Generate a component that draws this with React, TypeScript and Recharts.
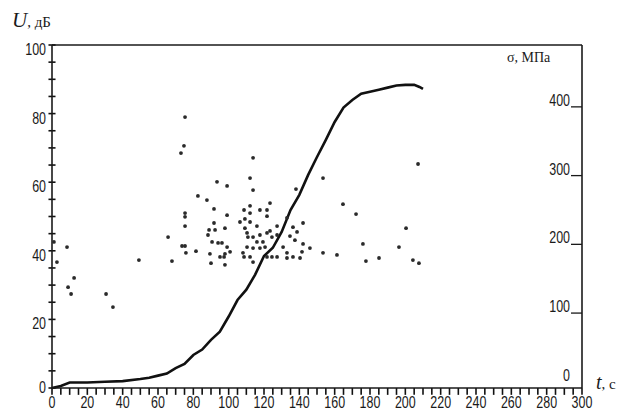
import * as React from 'react';
import {
  ComposedChart,
  Line,
  Scatter,
  XAxis,
  YAxis,
  ReferenceLine,
} from 'recharts';

// stress curve, t (s) -> sigma (MPa)
const curveT = [0, 5, 10, 20, 30, 40, 50, 55, 60, 65, 70, 75, 80, 85, 90, 95, 100, 105, 110, 115, 120, 125, 130, 135, 140, 145, 150, 155, 160, 165, 170, 175, 180, 185, 190, 195, 200, 205, 208, 210];
const curveSigma = [-9, -6, -1, -1, 0, 1, 4, 6, 9, 12, 20, 26, 39, 47, 61, 73, 95, 119, 134, 156, 183, 195, 218, 250, 272, 301, 327, 352, 378, 399, 410, 419, 422, 425, 428, 431, 432, 432, 429, 426];

// acoustic emission events, t (s) and amplitude U (dB)
const eventT = [75.3, 74.7, 73.0, 113.8, 93.4, 99.1, 112.1, 113.8, 82.6, 87.7, 91.7, 75.3, 75.3, 75.3, 99.1, 65.7, 73.6, 75.3, 75.8, 81.5, 49.2, 67.9, 90.0, 97.9, 89.4, 91.7, 88.9, 92.3, 97.9, 88.3, 90.6, 94.0, 96.2, 99.1, 97.9, 100.8, 95.1, 97.4, 108.7, 112.1, 117.7, 121.7, 123.4, 112.1, 106.4, 109.2, 112.1, 116.0, 121.7, 109.2, 110.4, 110.9, 113.8, 117.7, 121.7, 123.4, 127.4, 133.0, 136.4, 142.1, 138.7, 134.7, 137.5, 142.1, 146.0, 141.5, 130.8, 133.0, 127.4, 108.1, 108.7, 112.1, 113.8, 117.7, 120.6, 121.7, 124.5, 133.0, 136.4, 140.4, 110.4, 113.8, 116.0, 119.4, 124.5, 127.4, 207.2, 153.4, 164.7, 172.1, 200.4, 176.0, 196.4, 177.7, 185.1, 204.3, 207.7, 138.1, 153.4, 161.3, 1.1, 8.5, 2.8, 12.5, 9.1, 10.8, 30.6, 34.5];
const eventU = [79.0, 70.6, 68.5, 67.1, 60.1, 58.9, 61.2, 57.7, 56.0, 54.8, 52.2, 51.0, 49.9, 47.2, 50.4, 44.0, 41.4, 41.4, 39.4, 39.9, 37.3, 37.0, 36.4, 35.9, 39.1, 48.1, 46.1, 46.1, 46.6, 44.6, 42.6, 42.3, 42.3, 41.1, 39.1, 39.7, 38.2, 38.2, 51.9, 53.1, 51.9, 51.9, 53.9, 51.0, 48.4, 49.3, 48.4, 47.2, 50.1, 46.6, 45.2, 44.0, 44.0, 44.6, 45.2, 45.8, 47.2, 49.6, 46.9, 48.1, 45.5, 44.3, 43.1, 42.0, 40.8, 39.7, 41.1, 39.4, 38.2, 39.4, 38.2, 38.2, 36.7, 40.8, 41.1, 38.2, 38.2, 37.9, 38.2, 37.9, 41.1, 40.8, 42.6, 42.6, 44.0, 44.6, 65.3, 61.2, 53.6, 50.7, 46.6, 42.0, 41.1, 37.0, 37.9, 37.3, 36.4, 58.0, 39.4, 38.8, 42.6, 41.1, 36.7, 32.1, 29.4, 27.4, 27.4, 23.6];

// tick labels
const timeLabels = [0, 20, 40, 60, 80, 100, 120, 140, 160, 180, 200, 220, 240, 260, 280, 300];
const ampLabels = [0, 20, 40, 60, 80, 100];
const stressLabels = [0, 100, 200, 300, 400];

// minor tick positions (every 5 units)
const minorX = Array.from({ length: 61 }, (_, i) => i * 5);
const minorY = Array.from({ length: 21 }, (_, i) => i * 5);

const curveData = curveT.map((t, i) => ({ t, s: curveSigma[i] }));
const eventData = eventT.map((t, i) => ({ t, u: eventU[i] }));

const INK = '#1a1a1a';
const NUM_FONT = "'Liberation Sans', Arial, sans-serif";
const SERIF = "'Liberation Serif', 'DejaVu Serif', serif";

// narrow digits like the original (Arial Narrow look)
function NarrowText({ x, y, anchor, children }: any) {
  return (
    <text
      transform={`translate(${x},${y}) scale(0.78,1)`}
      textAnchor={anchor}
      fontSize={16}
      fontFamily={NUM_FONT}
      fill={INK}
    >
      {children}
    </text>
  );
}

function TimeTick(props: any) {
  const { x, y, payload } = props;
  return <NarrowText x={x} y={y + 20} anchor="middle">{payload.value}</NarrowText>;
}

function AmpTick(props: any) {
  const { x, y, payload } = props;
  const v = payload.value;
  return <NarrowText x={x - 6} y={y + (v === 0 ? 5 : 10)} anchor="end">{v}</NarrowText>;
}

function StressTick(props: any) {
  const { x, y, payload } = props;
  const v = payload.value;
  return (
    <g>
      {v !== 0 && <path d={`M${x - 11},${y}L${x},${y}`} stroke={INK} strokeWidth={1.3} fill="none" />}
      <NarrowText x={x - 12} y={y - 1} anchor="end">{v}</NarrowText>
    </g>
  );
}

const Dot = (props: any) => <circle cx={props.cx} cy={props.cy} r={1.9} fill="#2a2a2a" />;

export default function App() {
  return (
    <div style={{ position: 'relative', width: 630, height: 412, background: '#fff', overflow: 'hidden' }}>
      <style>{'body{margin:0}'}</style>
      <ComposedChart
        width={630}
        height={412}
        margin={{ top: 45, right: 8, left: 12, bottom: 4 }}
      >
        <XAxis
          dataKey="t"
          type="number"
          domain={[0, 300]}
          ticks={timeLabels}
          interval={0}
          tickSize={0}
          tickMargin={0}
          tickLine={false}
          tick={(p: any) => <TimeTick {...p} />}
          height={20}
          axisLine={{ stroke: INK, strokeWidth: 1.6 }}
        />
        <YAxis
          yAxisId="left"
          type="number"
          domain={[0, 100]}
          ticks={ampLabels}
          interval={0}
          tickSize={0}
          tickMargin={0}
          tickLine={false}
          tick={(p: any) => <AmpTick {...p} />}
          width={40}
          axisLine={{ stroke: INK, strokeWidth: 1.6 }}
        />
        <YAxis
          yAxisId="right"
          orientation="right"
          type="number"
          domain={[-9, 490]}
          ticks={stressLabels}
          interval={0}
          tickSize={0}
          tickMargin={0}
          tickLine={false}
          tick={(p: any) => <StressTick {...p} />}
          width={40}
          axisLine={{ stroke: INK, strokeWidth: 1.6 }}
        />
        <ReferenceLine yAxisId="left" y={100} stroke={INK} strokeWidth={1.6} />
        {/* minor ticks below the time axis */}
        {minorX.map((t) => (
          <ReferenceLine
            key={`tx${t}`}
            yAxisId="left"
            ifOverflow="visible"
            segment={[{ x: t, y: 0 }, { x: t, y: -2 }]}
            stroke="#111"
            strokeWidth={1.6}
          />
        ))}
        {/* minor ticks across the amplitude axis */}
        {minorY.map((u) => (
          <ReferenceLine
            key={`ty${u}`}
            yAxisId="left"
            ifOverflow="visible"
            segment={[{ x: -2, y: u }, { x: 2, y: u }]}
            stroke="#111"
            strokeWidth={1.6}
          />
        ))}
        <Scatter
          yAxisId="left"
          data={eventData}
          dataKey="u"
          shape={<Dot />}
          isAnimationActive={false}
        />
        <Line
          yAxisId="right"
          data={curveData}
          dataKey="s"
          type="linear"
          stroke="#111"
          strokeWidth={2.6}
          dot={false}
          isAnimationActive={false}
        />
      </ComposedChart>
      <div style={{ position: 'absolute', left: 12, top: 8, fontFamily: SERIF, color: INK, whiteSpace: 'nowrap' }}>
        <span style={{ fontStyle: 'italic', fontSize: 21 }}>U</span>
        <span style={{ fontSize: 15 }}>, дБ</span>
      </div>
      <div style={{ position: 'absolute', left: 507, top: 50, fontFamily: SERIF, fontSize: 14, color: INK, whiteSpace: 'nowrap' }}>
        σ, МПа
      </div>
      <div style={{ position: 'absolute', left: 596, top: 371, fontFamily: SERIF, color: INK, whiteSpace: 'nowrap' }}>
        <span style={{ fontStyle: 'italic', fontSize: 20 }}>t</span>
        <span style={{ fontSize: 15 }}>, с</span>
      </div>
    </div>
  );
}
